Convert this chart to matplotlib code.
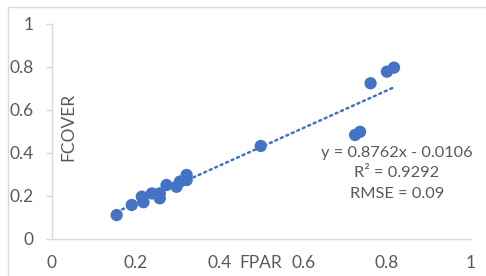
import matplotlib
matplotlib.use("Agg")
import matplotlib.pyplot as plt
from matplotlib.patches import Rectangle
import numpy as np

fpar = [0.155, 0.191, 0.215, 0.219, 0.239, 0.258, 0.258, 0.274, 0.298, 0.306,
        0.322, 0.322, 0.499, 0.724, 0.736, 0.761, 0.800, 0.817]
fcover = [0.110, 0.157, 0.196, 0.170, 0.211, 0.211, 0.188, 0.250, 0.242, 0.266,
          0.297, 0.273, 0.432, 0.483, 0.498, 0.724, 0.778, 0.797]
slope = 0.8762
intercept = -0.0106
eq_text = "y = 0.8762x - 0.0106\nR² = 0.9292\nRMSE = 0.09"
ticks = [0, 0.2, 0.4, 0.6, 0.8, 1]
tick_labels = ["0", "0.2", "0.4", "0.6", "0.8", "1"]

blue = "#4472C4"
gray_text = "#595959"
axis_gray = "#D9D9D9"

plt.rcParams['font.family'] = ['Lato', 'DejaVu Sans']

fig = plt.figure(figsize=(4.86, 2.76), dpi=100)
fig.patch.set_facecolor("white")
# chart border
fig.add_artist(Rectangle((8/486, -0.1), 1.0, 1 - 7/276 + 0.1, transform=fig.transFigure,
                         fill=False, edgecolor=axis_gray, linewidth=1.0))

ax = fig.add_axes([51.7/486, 1 - 238.7/276, (470.7 - 51.7)/486, (238.7 - 24)/276])
ax.set_xlim(0, 1)
ax.set_ylim(0, 1)
ax.set_facecolor("none")

xs = np.array([min(fpar), max(fpar)])
ax.plot(xs, slope * xs + intercept, color=blue, linewidth=1.8,
        linestyle=(0, (0.8, 1.6)), dash_capstyle='round', zorder=2)
ax.scatter(fpar, fcover, s=78, color=blue, edgecolors='none', zorder=3)

for s in ['top', 'right']:
    ax.spines[s].set_visible(False)
ax.spines['left'].set_color(axis_gray)
ax.spines['bottom'].set_color(axis_gray)
ax.spines['left'].set_linewidth(1.0)
ax.spines['bottom'].set_linewidth(1.0)

ax.set_xticks(ticks)
ax.set_xticklabels(tick_labels)
ax.set_yticks(ticks)
ax.set_yticklabels(tick_labels)
ax.tick_params(axis='x', length=0, pad=12, labelsize=12.5, labelcolor=gray_text)
ax.tick_params(axis='y', length=4, width=1.0, color=axis_gray, pad=9,
               labelsize=12.5, labelcolor=gray_text)

ax.text(0.0405, 0.52, "FCOVER", rotation=90, transform=ax.transAxes,
        ha='center', va='center', fontsize=12.5, color=gray_text)
fig.text(261/486, 1 - 263/276, "FPAR", ha='center', va='center',
         fontsize=12.5, color=gray_text)
ax.text(0.824, 0.305, eq_text, transform=ax.transAxes, ha='center', va='center',
        fontsize=11.8, color=gray_text, linespacing=1.6)

fig.savefig("out.png", dpi=100, facecolor="white")
